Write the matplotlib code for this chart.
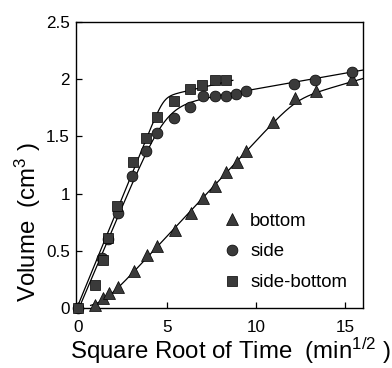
import numpy as np
import matplotlib
matplotlib.use("Agg")
import matplotlib.pyplot as plt
from matplotlib.lines import Line2D

# ---- data ----
bottom_x = [0.98, 1.41, 1.77, 2.23, 3.16, 3.86, 4.42, 5.45, 6.34, 7.04, 7.68, 8.30, 8.93, 9.45, 10.94, 12.20, 13.34, 15.41]
bottom_y = [0.03, 0.085, 0.13, 0.18, 0.32, 0.46, 0.54, 0.68, 0.83, 0.96, 1.07, 1.19, 1.28, 1.37, 1.63, 1.84, 1.90, 2.00]

side_x = [0.0, 1.38, 1.69, 2.28, 3.05, 3.83, 4.42, 5.39, 6.28, 7.00, 7.68, 8.30, 8.89, 9.45, 12.15, 13.32, 15.41]
side_y = [0.0, 0.44, 0.60, 0.83, 1.15, 1.37, 1.53, 1.66, 1.76, 1.85, 1.85, 1.85, 1.87, 1.90, 1.96, 1.99, 2.06]

sb_x = [0.0, 0.98, 1.41, 1.72, 2.19, 3.12, 3.83, 4.42, 5.39, 6.28, 6.99, 7.68, 8.33]
sb_y = [0.0, 0.20, 0.42, 0.61, 0.89, 1.28, 1.49, 1.67, 1.81, 1.91, 1.95, 1.99, 1.99]

labels = ["bottom", "side", "side-bottom"]
xticks = [0, 5, 10, 15]
yticks = [0, 0.5, 1, 1.5, 2, 2.5]

# fitted two-phase curves: (slope1, x0, plateau intercept, plateau slope, smoothing, x range)
fit_bottom = dict(s=0.167, x0=1.25, a=1.286, b=0.045, k=0.06, soft=0.08, lo=0.72, hi=16.0)
fit_side = dict(s=0.367, x0=0.07, a=1.64, b=0.0275, k=0.2, soft=None, lo=0.07, hi=16.0)
fit_sb = dict(s=0.38, x0=-0.05, a=1.677, b=0.036, k=0.07, soft=None, lo=-0.03, hi=8.7)


def curve(p, n=400):
    x = np.linspace(p["lo"], p["hi"], n)
    l1 = p["s"] * (x - p["x0"])
    if p["soft"]:
        l1 = p["soft"] * np.log1p(np.exp(l1 / p["soft"]))
    l2 = p["a"] + p["b"] * x
    k = p["k"]
    m = np.minimum(l1, l2)
    y = m - k * np.log(np.exp(-(l1 - m) / k) + np.exp(-(l2 - m) / k))
    return x, y


plt.rcParams["font.family"] = ["Liberation Sans", "DejaVu Sans"]
plt.rcParams["mathtext.default"] = "regular"

fig = plt.figure(figsize=(3.92, 3.68), dpi=100)
ax = fig.add_axes([76 / 392, 1 - 308 / 368, 287 / 392, 286 / 368])

fc = "#3a3a3a"
ms = 7.8
for p in (fit_bottom, fit_side, fit_sb):
    cx, cy = curve(p)
    ax.plot(cx, cy, color="black", lw=0.9, zorder=2)

ax.plot(bottom_x, bottom_y, ls="none", marker="^", ms=ms + 0.6, mfc=fc, mec="black", mew=0.5, zorder=3, clip_on=False)
ax.plot(side_x, side_y, ls="none", marker="o", ms=ms, mfc=fc, mec="black", mew=0.5, zorder=3, clip_on=False)
ax.plot(sb_x, sb_y, ls="none", marker="s", ms=ms - 0.5, mfc=fc, mec="black", mew=0.5, zorder=4, clip_on=False)

ax.set_xlim(-0.1, 16)
ax.set_ylim(0, 2.5)
ax.set_xticks(xticks)
ax.set_yticks(yticks)
ax.set_xticklabels([f"{t:g}" for t in xticks])
ax.set_yticklabels([f"{t:g}" for t in yticks])
ax.tick_params(axis="x", direction="in", length=4, width=0.9, labelsize=12.3, pad=8.5)
ax.tick_params(axis="y", direction="in", length=4, width=0.9, labelsize=12.3, pad=4.5)
for s in ax.spines.values():
    s.set_linewidth(1.0)

ax.set_xlabel("Square Root of Time  (min$^{1/2}$ )", fontsize=17.3, va="center", ha="center")
ax.xaxis.set_label_coords(0.537, -0.15)
ax.set_ylabel("Volume  (cm$^{3}$ )", fontsize=17.3, va="center", ha="center")
ax.yaxis.set_label_coords(-0.167, 0.30)

handles = [
    Line2D([], [], ls="none", marker="^", ms=ms + 0.6, mfc=fc, mec="black", mew=0.5),
    Line2D([], [], ls="none", marker="o", ms=ms, mfc=fc, mec="black", mew=0.5),
    Line2D([], [], ls="none", marker="s", ms=ms - 0.5, mfc=fc, mec="black", mew=0.5),
]
ax.legend(handles, labels, loc="upper left", bbox_to_anchor=(0.49, 0.36), frameon=False,
          fontsize=13.4, handlelength=0.8, handletextpad=0.6, labelspacing=0.75, borderaxespad=0)

fig.savefig("out.png", dpi=100)
